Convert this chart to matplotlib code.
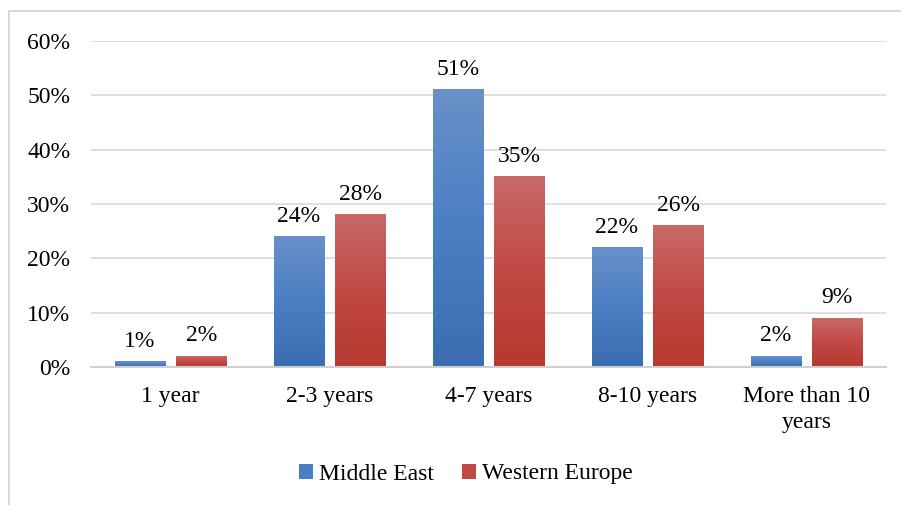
import matplotlib
matplotlib.use("Agg")
import matplotlib.pyplot as plt
import numpy as np
from matplotlib.colors import LinearSegmentedColormap
from matplotlib.patches import Rectangle

categories = ["1 year", "2-3 years", "4-7 years", "8-10 years", "More than 10\nyears"]
middle_east = [1, 24, 51, 22, 2]
western_europe = [2, 28, 35, 26, 9]
series_names = ["Middle East", "Western Europe"]
y_ticks = [0, 10, 20, 30, 40, 50, 60]

plt.rcParams['font.family'] = ['Liberation Serif', 'DejaVu Serif']

blue_cmap = LinearSegmentedColormap.from_list("b", ["#3b6db0", "#4a7fc4", "#6a90c8"])
red_cmap = LinearSegmentedColormap.from_list("r", ["#b5392f", "#c24845", "#c86a68"])

fig = plt.figure(figsize=(9.01, 5.05), dpi=100)
ax = fig.add_axes([91 / 901, 1 - 367 / 505, 795 / 901, (367 - 41) / 505])

# outer chart frame
fig.patches.append(Rectangle((8.5 / 901, -0.05), 1.0, 1 - 11 / 505 + 0.05,
                             transform=fig.transFigure, fill=False,
                             edgecolor="#d9d9d9", linewidth=1.5))

x = np.arange(len(categories))
width = 0.315
offset = 0.193
grad = np.linspace(0, 1, 256).reshape(-1, 1)
fs = 17


def gradient_bars(xs, values, cmap, color, label):
    bars = ax.bar(xs, values, width, color=color, label=label, zorder=2)
    for b in bars:
        bx, by = b.get_x(), b.get_y()
        bw, bh = b.get_width(), b.get_height()
        b.set_facecolor("none")
        ax.imshow(grad, cmap=cmap, origin="lower", aspect="auto",
                  extent=(bx, bx + bw, by, by + bh), zorder=2)
    for xi, v in zip(xs, values):
        ax.text(xi, v + 1.8, f"{v}%", ha="center", va="bottom", fontsize=fs)
    return bars


gradient_bars(x - offset, middle_east, blue_cmap, "#4a7fc4", series_names[0])
gradient_bars(x + offset, western_europe, red_cmap, "#c24845", series_names[1])

ax.set_xlim(-0.5, len(categories) - 0.5)
ax.set_ylim(0, 60)
ax.set_yticks(y_ticks)
ax.set_yticklabels([f"{t}%" for t in y_ticks], fontsize=fs)
ax.set_xticks(x)
ax.set_xticklabels(categories, fontsize=fs, linespacing=1.3)
ax.tick_params(axis="both", length=0, colors="black")
ax.tick_params(axis="y", pad=15)
ax.tick_params(axis="x", pad=14)

ax.grid(axis="y", color="#d9d9d9", linewidth=1.2, zorder=0)
ax.set_axisbelow(True)
for s in ["top", "right", "left"]:
    ax.spines[s].set_visible(False)
ax.spines["bottom"].set_color("#cfcfcf")
ax.spines["bottom"].set_linewidth(1.5)

handles = [Rectangle((0, 0), 1, 1, facecolor="#4a7fc4"),
           Rectangle((0, 0), 1, 1, facecolor="#c24845")]
fig.legend(handles, series_names, loc="center", bbox_to_anchor=(466 / 901, 1 - 474 / 505),
           ncol=2, frameon=False, fontsize=fs, handlelength=0.6, handleheight=0.6,
           handletextpad=0.25, columnspacing=1.2)

fig.savefig("out.png", dpi=100)
